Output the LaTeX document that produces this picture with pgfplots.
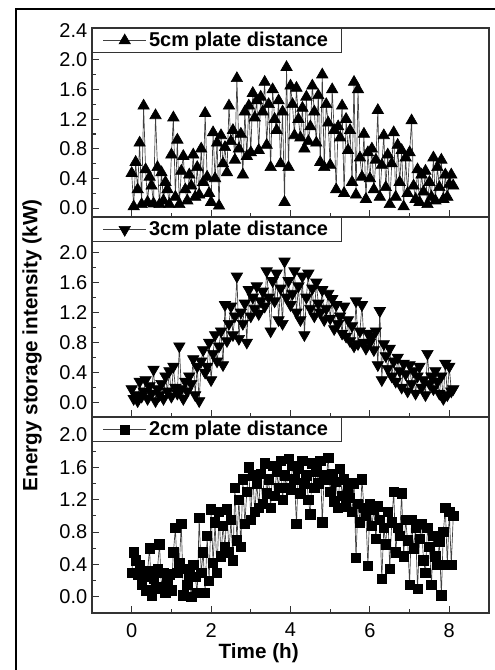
\documentclass[border=0pt]{standalone}
\usepackage{fontspec}
\setmainfont{Liberation Sans}
\usepackage{pgfplots}
\pgfplotsset{compat=1.18}
\begin{document}
\begin{tikzpicture}
\path[use as bounding box] (0pt,0pt) rectangle (370.5pt,-502.5pt);
\draw[line width=1.3pt] (12pt,-503pt) -- (12pt,-6.75pt) -- (371pt,-6.75pt);
\pgfplotsset{
  panel/.style={
    scale only axis, width=297.75pt,
    xmin=-1, xmax=9,
    xtick={0,2,4,6,8}, minor xtick={1,3,5,7},
    tick pos=left, tick align=inside,
    major tick length=5pt, minor tick length=3pt,
    axis line style={black!80, line width=0.9pt},
    every tick/.style={black!80, line width=0.8pt},
    /pgf/number format/assume math mode=true,
    ticklabel style={font=\fontsize{15}{17}\selectfont},
    yticklabel style={/pgf/number format/fixed, /pgf/number format/fixed zerofill, /pgf/number format/precision=1},
    legend style={at={(0,1)}, anchor=north west, draw=black!80, line width=0.6pt, fill=white,
      font=\bfseries\fontsize{15}{17}\selectfont, inner xsep=8pt, inner ysep=1pt,
      /tikz/every even column/.style={column sep=1pt}},
    legend cell align=left,
    legend image code/.code={\draw[mark repeat=2,mark phase=2,##1] plot coordinates {(0pt,0pt) (16pt,0pt) (32pt,0pt)};},
  },
  ser/.style={color=black!75, line width=0.5pt},
}
% ---------------- 5 cm ----------------
\begin{axis}[panel, at={(69pt,-21pt)}, anchor=north west, height=141.75pt,
  ymin=-0.12, ymax=2.43, ytick={0,0.4,...,2.41}, minor ytick={0.2,0.6,...,2.21},
  xticklabels={}]
\addplot[ser, mark=triangle*, mark size=4.9pt, mark options={fill=black, draw=black, solid}] coordinates {
(0.00,0.47)(0.05,0.02)(0.10,0.62)(0.15,0.25)(0.20,0.88)(0.25,0.05)(0.30,1.38)(0.35,0.52)(0.40,0.08)(0.45,0.42)
(0.50,0.30)(0.55,0.06)(0.60,1.25)(0.65,0.55)(0.70,0.05)(0.75,0.48)(0.80,0.10)(0.85,0.35)(0.90,0.25)(0.95,0.05)
(1.00,0.72)(1.05,1.22)(1.10,0.15)(1.15,0.92)(1.20,0.05)(1.25,0.50)(1.30,0.70)(1.35,0.25)(1.40,0.10)(1.45,0.45)
(1.50,0.30)(1.55,0.72)(1.60,0.15)(1.65,0.55)(1.70,0.18)(1.75,0.80)(1.80,0.35)(1.85,1.28)(1.90,0.42)(1.95,0.20)
(2.00,0.08)(2.05,1.02)(2.10,0.40)(2.15,0.88)(2.20,0.03)(2.25,0.98)(2.30,0.60)(2.35,0.82)(2.40,0.48)(2.45,1.38)
(2.50,0.90)(2.55,1.05)(2.60,0.65)(2.65,1.75)(2.70,0.80)(2.75,1.00)(2.80,0.45)(2.85,1.30)(2.90,0.70)(2.95,1.38)
(3.00,0.75)(3.05,1.55)(3.10,1.22)(3.15,1.45)(3.20,0.78)(3.25,1.50)(3.30,1.30)(3.35,1.70)(3.40,0.85)(3.45,1.40)
(3.50,0.55)(3.55,1.60)(3.60,1.20)(3.65,1.05)(3.70,1.45)(3.75,0.60)(3.80,1.30)(3.85,0.08)(3.90,1.90)(3.95,0.55)
(4.00,1.65)(4.05,1.40)(4.10,0.98)(4.15,1.62)(4.20,1.20)(4.25,0.95)(4.30,1.35)(4.35,0.80)(4.40,1.50)(4.45,0.90)
(4.50,1.10)(4.55,1.65)(4.60,1.30)(4.65,0.88)(4.70,1.52)(4.75,0.62)(4.80,1.80)(4.85,0.55)(4.90,1.40)(4.95,1.15)
(5.00,0.58)(5.05,1.60)(5.10,1.05)(5.15,0.25)(5.20,1.10)(5.25,0.95)(5.30,1.38)(5.35,0.20)(5.40,1.20)(5.45,0.78)
(5.50,1.05)(5.55,0.35)(5.60,1.70)(5.65,0.18)(5.70,1.60)(5.75,0.68)(5.80,0.42)(5.85,1.00)(5.90,0.12)(5.95,0.75)
(6.00,0.40)(6.05,0.80)(6.10,0.25)(6.15,0.65)(6.20,1.32)(6.25,0.15)(6.30,0.58)(6.35,0.98)(6.40,0.28)(6.45,0.72)
(6.50,0.05)(6.55,0.60)(6.60,1.02)(6.65,0.15)(6.70,0.85)(6.75,0.35)(6.80,0.78)(6.85,0.02)(6.90,0.68)(6.95,0.20)
(7.00,0.75)(7.05,1.18)(7.10,0.30)(7.15,0.12)(7.20,0.52)(7.25,0.08)(7.30,0.45)(7.35,0.22)(7.40,0.50)(7.45,0.05)
(7.50,0.35)(7.55,0.15)(7.60,0.68)(7.65,0.10)(7.70,0.55)(7.75,0.28)(7.80,0.65)(7.85,0.12)(7.90,0.45)(7.95,0.15)
(8.00,0.32)(8.05,0.45)(8.10,0.30)
};
\addlegendentry{5cm plate distance}
\end{axis}
% ---------------- 3 cm ----------------
\begin{axis}[panel, at={(69pt,-162.75pt)}, anchor=north west, height=150pt,
  ymin=-0.194, ymax=2.47, ytick={0,0.4,...,2.01}, minor ytick={0.2,0.6,...,2.21},
  xticklabels={}]
\addplot[ser, mark=triangle*, mark size=4.9pt, mark options={fill=black, draw=black, solid, rotate=180}] coordinates {
(0.00,0.18)(0.05,0.05)(0.10,0.10)(0.15,0.02)(0.20,0.28)(0.25,0.08)(0.30,0.15)(0.35,0.30)(0.40,0.05)(0.45,0.22)
(0.50,0.12)(0.55,0.44)(0.60,0.02)(0.65,0.18)(0.70,0.10)(0.75,0.25)(0.80,0.05)(0.85,0.35)(0.90,0.15)(0.95,0.42)
(1.00,0.08)(1.05,0.48)(1.10,0.20)(1.15,0.12)(1.20,0.75)(1.25,0.18)(1.30,0.05)(1.35,0.28)(1.40,0.15)(1.45,0.35)
(1.50,0.25)(1.55,0.58)(1.60,0.10)(1.65,0.48)(1.70,0.02)(1.75,0.55)(1.80,0.70)(1.85,0.40)(1.90,0.48)(1.95,0.80)
(2.00,0.30)(2.05,0.65)(2.10,0.90)(2.15,0.55)(2.20,0.75)(2.25,0.95)(2.30,0.50)(2.35,1.30)(2.40,0.82)(2.45,1.05)
(2.50,1.28)(2.55,0.90)(2.60,1.15)(2.65,1.68)(2.70,0.85)(2.75,1.20)(2.80,1.05)(2.85,1.32)(2.90,0.80)(2.95,1.50)
(3.00,1.15)(3.05,1.40)(3.10,1.25)(3.15,1.55)(3.20,1.18)(3.25,1.35)(3.30,1.48)(3.35,1.28)(3.40,1.75)(3.45,1.40)
(3.50,0.95)(3.55,1.62)(3.60,1.35)(3.65,1.72)(3.70,1.10)(3.75,1.52)(3.80,1.05)(3.85,1.88)(3.90,1.40)(3.95,1.62)
(4.00,1.30)(4.05,1.45)(4.10,1.75)(4.15,1.20)(4.20,1.55)(4.25,1.10)(4.30,1.68)(4.35,0.90)(4.40,1.40)(4.45,1.72)
(4.50,1.25)(4.55,1.52)(4.60,1.15)(4.65,1.60)(4.70,1.32)(4.75,1.20)(4.80,1.50)(4.85,1.10)(4.90,1.25)(4.95,1.45)
(5.00,1.12)(5.05,1.38)(5.10,0.98)(5.15,1.30)(5.20,1.05)(5.25,1.15)(5.30,0.92)(5.35,1.28)(5.40,0.88)(5.45,1.10)
(5.50,0.82)(5.55,1.02)(5.60,0.75)(5.65,1.35)(5.70,0.78)(5.75,0.95)(5.80,1.30)(5.85,0.80)(5.90,0.72)(5.95,0.92)
(6.00,0.80)(6.05,0.88)(6.10,0.70)(6.15,0.95)(6.20,0.50)(6.25,1.22)(6.30,0.30)(6.35,0.78)(6.40,0.62)(6.45,0.45)
(6.50,0.72)(6.55,0.35)(6.60,0.55)(6.65,0.28)(6.70,0.60)(6.75,0.42)(6.80,0.20)(6.85,0.52)(6.90,0.38)(6.95,0.15)
(7.00,0.50)(7.05,0.25)(7.10,0.42)(7.15,0.12)(7.20,0.35)(7.25,0.48)(7.30,0.20)(7.35,0.30)(7.40,0.10)(7.45,0.65)
(7.50,0.25)(7.55,0.35)(7.60,0.18)(7.65,0.42)(7.70,0.28)(7.75,0.12)(7.80,0.35)(7.85,0.05)(7.90,0.52)(7.95,0.10)
(8.00,0.48)(8.05,0.15)(8.10,0.18)
};
\addlegendentry{3cm plate distance}
\end{axis}
% ---------------- 2 cm ----------------
\begin{axis}[panel, at={(69pt,-312.75pt)}, anchor=north west, height=147pt,
  ymin=-0.198, ymax=2.22, ytick={0,0.4,...,2.01}, minor ytick={0.2,0.6,...,1.81},
  xticklabel style={yshift=-4pt}]
\addplot[ser, mark=square*, mark size=3.5pt, mark options={fill=black, draw=black, solid}] coordinates {
(0.00,0.30)(0.05,0.55)(0.10,0.45)(0.15,0.28)(0.20,0.40)(0.25,0.15)(0.30,0.25)(0.35,0.08)(0.40,0.32)(0.45,0.60)
(0.50,0.02)(0.55,0.22)(0.60,0.10)(0.65,0.35)(0.70,0.65)(0.75,0.12)(0.80,0.30)(0.85,0.05)(0.90,0.18)(0.95,0.28)
(1.00,0.08)(1.05,0.55)(1.10,0.85)(1.15,0.30)(1.20,0.42)(1.25,0.90)(1.30,0.02)(1.35,0.35)(1.40,0.15)(1.45,0.28)
(1.50,0.00)(1.55,0.40)(1.60,0.25)(1.65,0.05)(1.70,0.98)(1.75,0.30)(1.80,0.55)(1.85,0.05)(1.90,0.75)(1.95,0.20)
(2.00,1.08)(2.05,0.42)(2.10,0.92)(2.15,0.30)(2.20,1.05)(2.25,0.50)(2.30,0.88)(2.35,0.62)(2.40,1.08)(2.45,0.55)
(2.50,0.95)(2.55,0.45)(2.60,1.35)(2.65,0.70)(2.70,1.20)(2.75,0.62)(2.80,1.45)(2.85,0.90)(2.90,1.30)(2.95,1.60)
(3.00,0.95)(3.05,1.50)(3.10,1.05)(3.15,1.40)(3.20,1.10)(3.25,1.52)(3.30,1.15)(3.35,1.65)(3.40,1.28)(3.45,1.45)
(3.50,1.10)(3.55,1.62)(3.60,1.25)(3.65,1.55)(3.70,1.35)(3.75,1.68)(3.80,1.20)(3.85,1.50)(3.90,1.35)(3.95,1.70)
(4.00,1.32)(4.05,1.62)(4.10,1.45)(4.15,0.90)(4.20,1.58)(4.25,1.28)(4.30,1.68)(4.35,1.40)(4.40,1.50)(4.45,1.20)
(4.50,1.02)(4.55,1.65)(4.60,1.35)(4.65,1.55)(4.70,1.40)(4.75,1.68)(4.80,0.92)(4.85,1.50)(4.90,1.45)(4.95,1.72)
(5.00,1.30)(5.05,1.52)(5.10,1.18)(5.15,1.42)(5.20,1.10)(5.25,1.58)(5.30,1.25)(5.35,1.45)(5.40,1.12)(5.45,1.35)
(5.50,1.22)(5.55,1.05)(5.60,1.40)(5.65,0.48)(5.70,1.15)(5.75,0.92)(5.80,1.45)(5.85,1.10)(5.90,1.00)(5.95,0.38)
(6.00,1.15)(6.05,0.88)(6.10,1.08)(6.15,0.72)(6.20,1.12)(6.25,0.95)(6.30,0.22)(6.35,0.85)(6.40,0.65)(6.45,1.05)
(6.50,0.35)(6.55,0.92)(6.60,1.30)(6.65,0.55)(6.70,0.85)(6.75,0.75)(6.80,1.28)(6.85,0.50)(6.90,0.95)(6.95,0.70)
(7.00,0.15)(7.05,0.95)(7.10,0.60)(7.15,0.85)(7.20,0.10)(7.25,0.72)(7.30,0.90)(7.35,0.45)(7.40,0.30)(7.45,0.85)
(7.50,0.62)(7.55,0.15)(7.60,0.75)(7.65,0.50)(7.70,0.40)(7.75,0.68)(7.80,0.02)(7.85,0.80)(7.90,1.10)(7.95,0.40)
(8.00,1.05)(8.05,0.40)(8.10,1.00)
};
\addlegendentry{2cm plate distance}
\end{axis}
\node[rotate=90, font=\bfseries\fontsize{15.5}{18}\selectfont] at (24pt,-259pt) {Energy storage intensity (kW)};
\node[font=\bfseries\fontsize{15.5}{18}\selectfont] at (194pt,-490pt) {Time (h)};
\end{tikzpicture}
\end{document}
